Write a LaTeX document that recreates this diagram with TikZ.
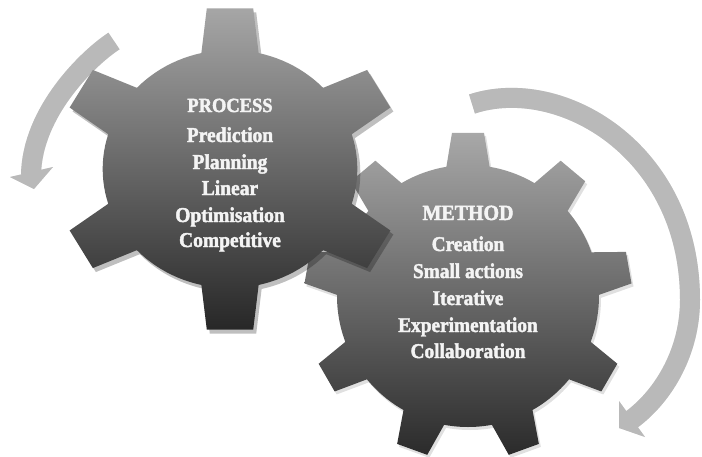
\documentclass[tikz,border=0pt]{standalone}
\usepackage{fontspec}
\setmainfont{Liberation Serif}[BoldFeatures={FakeBold=2,FakeStretch=0.92}]
\definecolor{gonetop}{HTML}{A6A6A6}
\definecolor{gonemid}{HTML}{6E6E6E}
\definecolor{gonebot}{HTML}{272727}
\definecolor{gtwotop}{HTML}{A8A8A8}
\definecolor{gtwomid}{HTML}{6C6C6C}
\definecolor{gtwobot}{HTML}{2B2B2B}
\definecolor{arrowgray}{HTML}{B9B9B9}
\definecolor{textwhite}{HTML}{F4F4F4}
\newcommand{\gearpath}{%
  ({\gcx+\gsx*\grb*cos(\gfirst-\gbw)},{\gcy-\grb*sin(\gfirst-\gbw)})
  \foreach \t in \glist {
    -- ({\gcx+\gsx*\grb*cos(\t-\gbw)},{\gcy-\grb*sin(\t-\gbw)})
    -- ({\gcx+\gsx*\gro*cos(\t-\gtw)},{\gcy-\gro*sin(\t-\gtw)})
    -- ({\gcx+\gsx*\gro*cos(\t+\gtw)},{\gcy-\gro*sin(\t+\gtw)})
    -- ({\gcx+\gsx*\grb*cos(\t+\gbw)},{\gcy-\grb*sin(\t+\gbw)})
    \foreach \u in {1,...,11} {
      -- ({\gcx+\gsx*\grb*cos(\t+\gbw+(\gstep-2*\gbw)*\u/12)},{\gcy-\grb*sin(\t+\gbw+(\gstep-2*\gbw)*\u/12)})
    }
  } -- cycle}
\begin{document}
\begin{tikzpicture}[x=1pt,y=-1pt,
  ptext/.style={text=textwhite, anchor=base, inner sep=0pt, font=\bfseries\fontsize{21.2}{24}\selectfont},
  phead/.style={ptext, font=\bfseries\fontsize{20.1}{24}\selectfont},
  mtext/.style={ptext, font=\bfseries\fontsize{21}{24}\selectfont},
  mhead/.style={ptext, font=\bfseries\fontsize{21.7}{24}\selectfont},
  band/.style={draw=arrowgray, line width=20pt},
  bandshadow/.style={draw=black, line width=20pt, opacity=0.10},
  headfill/.style={fill=arrowgray},
  headshadow/.style={fill=black, opacity=0.10}]
\useasboundingbox (0,0) rectangle (702,456);

% ---------- arrows ----------
\coordinate (la0) at (114,41);
\coordinate (la1) at (88,58);
\coordinate (la2) at (32,112);
\coordinate (la3) at (31,175);
\coordinate (lhA) at (10,177);
\coordinate (lhB) at (53,167);
\coordinate (lhT) at (34,189);

\coordinate (ra0) at (472,104);
\coordinate (ra1) at (560,75);
\coordinate (ra2) at (690,150);
\coordinate (ra3) at (690,300);
\coordinate (ra4) at (690,350);
\coordinate (ra5) at (665,395);
\coordinate (ra6) at (631,420);
\coordinate (rhA) at (619,401);
\coordinate (rhB) at (645,437);
\coordinate (rhT) at (619,428);

\begin{scope}[shift={(2,3)}]
  \draw[bandshadow] (la0) .. controls (la1) and (la2) .. (la3);
  \fill[headshadow] (lhA) -- (lhT) -- (lhB) -- cycle;
  \draw[bandshadow] (ra0) .. controls (ra1) and (ra2) .. (ra3) .. controls (ra4) and (ra5) .. (ra6);
  \fill[headshadow] (rhA) -- (rhT) -- (rhB) -- cycle;
\end{scope}
\draw[band] (la0) .. controls (la1) and (la2) .. (la3);
\fill[headfill] (lhA) -- (lhT) -- (lhB) -- cycle;
\draw[band] (ra0) .. controls (ra1) and (ra2) .. (ra3) .. controls (ra4) and (ra5) .. (ra6);
\fill[headfill] (rhA) -- (rhT) -- (rhB) -- cycle;

% ---------- gear 2 (METHOD) ----------
\def\gcx{468}\def\gcy{296}\def\gsx{1}\def\grb{131}\def\gro{164}
\def\gfirst{10}\def\glist{10,50,90,130,170,210,250,290,330}\def\gstep{40}
\def\gbw{9.5}\def\gtw{5.6}
\fill[black, opacity=0.12, shift={(2,3)}] \gearpath;
\shade[top color=gtwotop, middle color=gtwomid, bottom color=gtwobot] \gearpath;

% ---------- gear 1 (PROCESS) ----------
\def\gcx{230}\def\gcy{169}\def\gsx{1.07}\def\grb{119}\def\gro{162}
\def\gfirst{30}\def\glist{30,90,150,210,270,330}\def\gstep{60}
\def\gbw{13}\def\gtw{7.7}
\fill[black, opacity=0.25, shift={(3,4)}] \gearpath;
\shade[top color=gonetop, middle color=gonemid, bottom color=gonebot] \gearpath;

% ---------- texts ----------
\node[phead] (p0) at (230,112) {PROCESS};
\node[ptext] (p1) at (230,142) {Prediction};
\node[ptext] (p2) at (230,169) {Planning};
\node[ptext] (p3) at (230,195) {Linear};
\node[ptext] (p4) at (230,222) {Optimisation};
\node[ptext] (p5) at (230,247) {Competitive};

\node[mhead] (m0) at (468,220) {METHOD};
\node[mtext] (m1) at (468,251) {Creation};
\node[mtext] (m2) at (468,278) {Small actions};
\node[mtext] (m3) at (468,305) {Iterative};
\node[mtext] (m4) at (468,332) {Experimentation};
\node[mtext] (m5) at (468,358) {Collaboration};
\end{tikzpicture}
\end{document}
